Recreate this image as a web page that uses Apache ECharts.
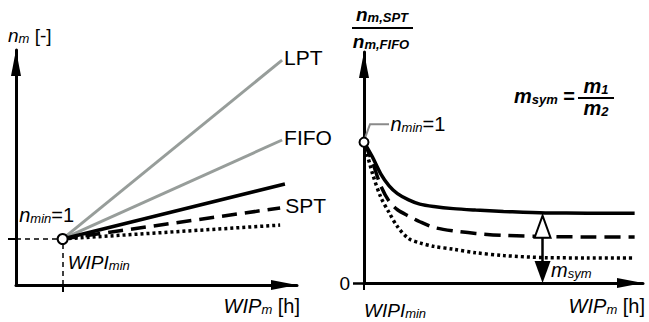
<!DOCTYPE html>
<html><head><meta charset="utf-8">
<script src="https://cdn.jsdelivr.net/npm/echarts@6/dist/echarts.min.js"></script>
<style>html,body{margin:0;padding:0;background:#fff}#c{width:649px;height:322px}</style>
</head><body><div id="c"></div>
<script>
// ---------- Left panel (schematic units) ----------
const nMinPoint = [16.6, 19.6];           // (WIPImin, n_min)
const lptLine   = [[16.6, 19.6], [94.7, 95.7]];
const fifoLine  = [[16.6, 19.6], [94.7, 61.7]];
const sptSolid  = [[16.6, 19.6], [95.7, 43.0]];
const sptDashed = [[16.6, 19.6], [94.0, 32.8]];
const sptDotted = [[16.6, 19.6], [94.0, 25.5]];
const leftLabels = ['LPT', 'FIFO', 'SPT'];

// ---------- Right panel: n_m,SPT / n_m,FIFO ----------
const curveX = [0, 3, 6, 9, 12, 16, 20, 25, 32, 40, 50, 65, 80, 97];
const solidY = [1.0, 0.895, 0.775, 0.69, 0.635, 0.59, 0.56, 0.543, 0.528, 0.518, 0.508, 0.497, 0.496, 0.496];
const dashY  = [1.0, 0.86, 0.69, 0.58, 0.52, 0.475, 0.435, 0.395, 0.37, 0.352, 0.338, 0.33, 0.327, 0.326];
const dotY   = [1.0, 0.78, 0.61, 0.50, 0.40, 0.315, 0.285, 0.26, 0.24, 0.215, 0.195, 0.18, 0.178, 0.177];
const rightPoint = [0, 1];
const msymX = 64;
const msymRange = [0.078, 0.40];
const rightYTicks = [0];

const zip = (xs, ys) => xs.map((x, i) => [x, ys[i]]);
const FF = '"Liberation Sans", Arial, Helvetica, sans-serif';
const GRAY = '#979d9a';

function rich(size, bold) {
  const w = bold ? 'bold' : 'normal';
  const sub = Math.round(size * 0.66);
  return {
    i: {fontFamily: FF, fontSize: size, fontStyle: 'italic', fontWeight: w, color: '#000', verticalAlign: 'middle'},
    s: {fontFamily: FF, fontSize: sub, fontStyle: 'italic', fontWeight: w, color: '#000', verticalAlign: 'bottom'},
    r: {fontFamily: FF, fontSize: size, fontWeight: w, color: '#000', verticalAlign: 'middle'}
  };
}

const axisArrow = {
  show: true, symbol: ['none', 'triangle'], symbolSize: [10, 26], symbolOffset: [0, -13],
  lineStyle: {color: '#000', width: 3}
};

const chart = echarts.init(document.getElementById('c'), null, {renderer: 'svg'});
const option = {
  animation: false,
  backgroundColor: '#fff',
  grid: [
    {left: 16, right: 352, top: 50, bottom: 37},
    {left: 364, right: 6, top: 52, bottom: 39}
  ],
  xAxis: [
    {type: 'value', gridIndex: 0, min: 0, max: 100, splitLine: {show: false},
     axisLine: axisArrow,
     axisTick: {show: true, customValues: [nMinPoint[0]], length: 7, lineStyle: {color: '#000', width: 2}},
     axisLabel: {show: true, customValues: [nMinPoint[0]], inside: true, margin: 13, align: 'left', padding: [0, 0, 0, 5],
       formatter: () => '{i|WIPI}{s|min}', rich: rich(19)},
     name: '{i|WIP}{s|m}{r| [h]}', nameLocation: 'end', nameGap: 3,
     nameTextStyle: {align: 'right', verticalAlign: 'top', padding: [11, 0, 0, 0], rich: rich(20)}},
    {type: 'value', gridIndex: 1, min: 0, max: 100, splitLine: {show: false},
     axisLine: axisArrow,
     axisTick: {show: true, customValues: [0], length: 7, lineStyle: {color: '#000', width: 2}},
     axisLabel: {show: true, customValues: [0], margin: 18, align: 'left',
       formatter: () => '{i|WIPI}{s|min}', rich: rich(19)},
     name: '{i|WIP}{s|m}{r| [h]}', nameLocation: 'end', nameGap: 2,
     nameTextStyle: {align: 'right', verticalAlign: 'top', padding: [13, 0, 0, 0], rich: rich(20)}}
  ],
  yAxis: [
    {type: 'value', gridIndex: 0, min: 0, max: 100, splitLine: {show: false},
     axisLine: axisArrow,
     axisTick: {show: true, customValues: [nMinPoint[1]], length: 8, lineStyle: {color: '#000', width: 2}},
     axisLabel: {show: false}},
    {type: 'value', gridIndex: 1, min: 0, max: 1.64, splitLine: {show: false},
     axisLine: axisArrow,
     axisTick: {show: true, customValues: rightYTicks, length: 11, lineStyle: {color: '#000', width: 2.5}},
     axisLabel: {show: true, customValues: rightYTicks, margin: 14, fontFamily: FF, fontSize: 19, color: '#000'}}
  ],
  series: [
    {type: 'line', xAxisIndex: 0, yAxisIndex: 0, data: lptLine, symbol: 'none', silent: true,
     lineStyle: {color: GRAY, width: 3},
     endLabel: {show: true, formatter: leftLabels[0], fontFamily: FF, fontSize: 21, color: '#000', distance: 2, offset: [0, -3]}},
    {type: 'line', xAxisIndex: 0, yAxisIndex: 0, data: fifoLine, symbol: 'none', silent: true,
     lineStyle: {color: GRAY, width: 3},
     endLabel: {show: true, formatter: leftLabels[1], fontFamily: FF, fontSize: 21, color: '#000', distance: 2, offset: [0, -3]}},
    {type: 'line', xAxisIndex: 0, yAxisIndex: 0, data: sptSolid, symbol: 'none', silent: true,
     lineStyle: {color: '#000', width: 3.5}},
    {type: 'line', xAxisIndex: 0, yAxisIndex: 0, data: sptDashed, symbol: 'none', silent: true,
     lineStyle: {color: '#000', width: 3.5, type: [15, 8]},
     endLabel: {show: true, formatter: leftLabels[2], fontFamily: FF, fontSize: 21, color: '#000', distance: 5, offset: [0, -2]}},
    {type: 'line', xAxisIndex: 0, yAxisIndex: 0, data: sptDotted, symbol: 'none', silent: true,
     lineStyle: {color: '#000', width: 3.5, type: [3, 3]}},
    {type: 'scatter', xAxisIndex: 0, yAxisIndex: 0, data: [nMinPoint], symbol: 'circle', symbolSize: 10, z: 10, silent: true,
     itemStyle: {color: '#fff', borderColor: '#000', borderWidth: 2, opacity: 1},
     label: {show: true, position: 'top', distance: 8, offset: [-16, 0], formatter: '{i|n}{s|min}{r|=1}', rich: rich(20)},
     markLine: {silent: true, symbol: 'none', label: {show: false},
       lineStyle: {color: '#000', width: 1.5, type: [5, 4]},
       data: [
         [{coord: [0, nMinPoint[1]]}, {coord: [nMinPoint[0], nMinPoint[1]]}],
         [{coord: [nMinPoint[0], 0]}, {coord: [nMinPoint[0], nMinPoint[1]]}]
       ]}},

    {type: 'line', xAxisIndex: 1, yAxisIndex: 1, data: zip(curveX, solidY), symbol: 'none', silent: true,
     smooth: 0.3, lineStyle: {color: '#000', width: 3.5},
     markLine: {silent: true, symbol: ['triangle', 'emptyTriangle'], symbolSize: [16, 22], label: {show: false},
       lineStyle: {color: '#000', width: 2.5, type: 'solid'}, itemStyle: {color: '#000'},
       data: [[{coord: [msymX, msymRange[0]]}, {coord: [msymX, msymRange[1]]}]]}},
    {type: 'line', xAxisIndex: 1, yAxisIndex: 1, data: zip(curveX, dashY), symbol: 'none', silent: true,
     smooth: 0.3, lineStyle: {color: '#000', width: 3.5, type: [16, 8]}},
    {type: 'line', xAxisIndex: 1, yAxisIndex: 1, data: zip(curveX, dotY), symbol: 'none', silent: true,
     smooth: 0.3, lineStyle: {color: '#000', width: 3.5, type: [3, 3]}},
    {type: 'scatter', xAxisIndex: 1, yAxisIndex: 1, data: [rightPoint], symbol: 'circle', symbolSize: 9, z: 10, silent: true,
     itemStyle: {color: '#fff', borderColor: '#000', borderWidth: 2, opacity: 1},
     label: {show: true, position: 'right', distance: 5, formatter: '{i|n}{s|min}{r|=1}', rich: rich(20)},
     labelLayout: {dx: 16, dy: -18}}
  ],
  graphic: [
    {type: 'text', left: 8, top: 26, silent: true,
     style: {text: '{i|n}{s|m}{r| [-]}', rich: rich(19)}},
    {type: 'text', x: 382, y: 14, silent: true,
     style: {text: '{i|n}{s|m,SPT}', rich: rich(19, true), align: 'center', verticalAlign: 'middle'}},
    {type: 'line', silent: true, shape: {x1: 352, y1: 28, x2: 413, y2: 28}, style: {stroke: '#000', lineWidth: 2}},
    {type: 'text', x: 381, y: 41, silent: true,
     style: {text: '{i|n}{s|m,FIFO}', rich: rich(19, true), align: 'center', verticalAlign: 'middle'}},
    {type: 'text', x: 575, y: 96, silent: true,
     style: {text: '{i|m}{s|sym}{r| =}', rich: rich(20, true), align: 'right', verticalAlign: 'middle'}},
    {type: 'text', x: 596, y: 86, silent: true,
     style: {text: '{i|m}{s|1}', rich: rich(20, true), align: 'center', verticalAlign: 'middle'}},
    {type: 'line', silent: true, shape: {x1: 578, y1: 98, x2: 614, y2: 98}, style: {stroke: '#000', lineWidth: 2}},
    {type: 'text', x: 596, y: 108, silent: true,
     style: {text: '{i|m}{s|2}', rich: rich(20, true), align: 'center', verticalAlign: 'middle'}},
    {type: 'text', x: 551, y: 270, silent: true,
     style: {text: '{i|m}{s|sym}', rich: rich(20), align: 'left', verticalAlign: 'middle'}}
  ]
};
chart.setOption(option);

// leader line from the right n_min point to its label, positioned through the axes
const p = chart.convertToPixel({xAxisIndex: 1, yAxisIndex: 1}, rightPoint);
chart.setOption({graphic: option.graphic.concat([
  {type: 'polyline', silent: true, z: 5,
   shape: {points: [[p[0] + 1, p[1] - 4], [p[0] + 6, p[1] - 18], [p[0] + 25, p[1] - 18]]},
   style: {stroke: '#8a8a8a', lineWidth: 2, fill: 'none'}}
])});
</script></body></html>
